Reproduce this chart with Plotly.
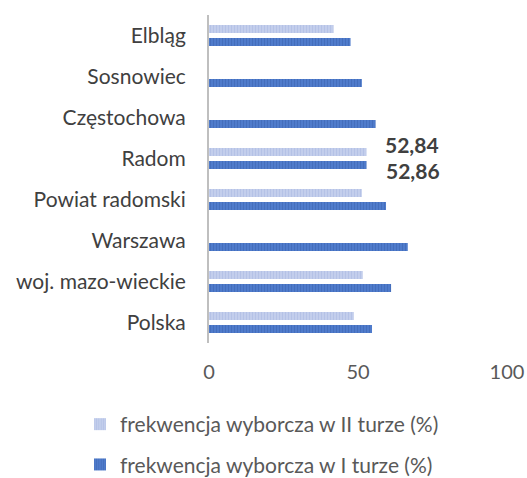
import plotly.graph_objects as go

categories = ["Polska", "woj. mazo-wieckie", "Warszawa", "Powiat radomski",
              "Radom", "Częstochowa", "Sosnowiec", "Elbląg"]
turn1 = [54.7, 61.1, 66.7, 59.4, 52.86, 55.9, 51.3, 47.5]
turn2 = [48.6, 51.6, None, 51.3, 52.84, None, None, 41.8]
name1 = "frekwencja wyborcza w I turze (%)"
name2 = "frekwencja wyborcza w II turze (%)"
x_ticks = [0, 50, 100]

FONT = "Lato, 'Open Sans', sans-serif"

fig = go.Figure()
fig.add_trace(go.Bar(
    y=categories, x=turn1, orientation="h", name=name1,
    legendgroup="g2", legendrank=2,
    marker=dict(color="#4472C4", line=dict(width=0),
                pattern=dict(shape="|", fgcolor="#3A62AE", bgcolor="#4F7BCB",
                             size=3, solidity=0.35)),
    hoverinfo="x+y",
))
fig.add_trace(go.Bar(
    y=categories, x=turn2, orientation="h", name=name2,
    legendgroup="g1", legendrank=1,
    marker=dict(color="#B4C2E6", line=dict(width=0),
                pattern=dict(shape="|", fgcolor="#A7B6E0", bgcolor="#C3CEEC",
                             size=3, solidity=0.35)),
    hoverinfo="x+y",
))

ri = categories.index("Radom")
fig.add_annotation(x=turn2[ri], y="Radom", text="<b>52,84</b>", showarrow=False,
                   xanchor="left", xshift=17, yshift=14,
                   font=dict(family=FONT, size=21, color="#404040"))
fig.add_annotation(x=turn1[ri], y="Radom", text="<b>52,86</b>", showarrow=False,
                   xanchor="left", xshift=17, yshift=-12,
                   font=dict(family=FONT, size=21, color="#404040"))

fig.update_layout(
    width=527, height=478,
    margin=dict(l=209, r=20, t=15, b=135, autoexpand=False),
    paper_bgcolor="white", plot_bgcolor="white",
    barmode="group", bargap=0.36, bargroupgap=0.4,
    font=dict(family=FONT, size=21, color="#595959"),
    showlegend=True,
    legend=dict(
        orientation="v", traceorder="grouped", tracegroupgap=10,
        xref="container", yref="container",
        x=80 / 527, xanchor="left", y=1 - 404 / 478, yanchor="top",
        font=dict(family=FONT, size=21, color="#595959"),
        itemwidth=30,
    ),
    xaxis=dict(
        range=[0, 100], tickvals=x_ticks, ticktext=[str(v) for v in x_ticks],
        showgrid=False, zeroline=False, showline=False, ticks="",
        ticklabelstandoff=15,
        tickfont=dict(family=FONT, size=20, color="#595959"),
    ),
    yaxis=dict(
        type="category", categoryorder="array", categoryarray=categories,
        showgrid=False, zeroline=False, showline=True, linecolor="#BFBFBF",
        linewidth=2, ticks="", ticklabelstandoff=17,
        tickfont=dict(family=FONT, size=21, color="#404040"),
    ),
)

fig.write_html(
    "out.html",
    config={"displayModeBar": False},
    post_script="document.body.style.margin='0';document.body.style.overflow='hidden';",
)
